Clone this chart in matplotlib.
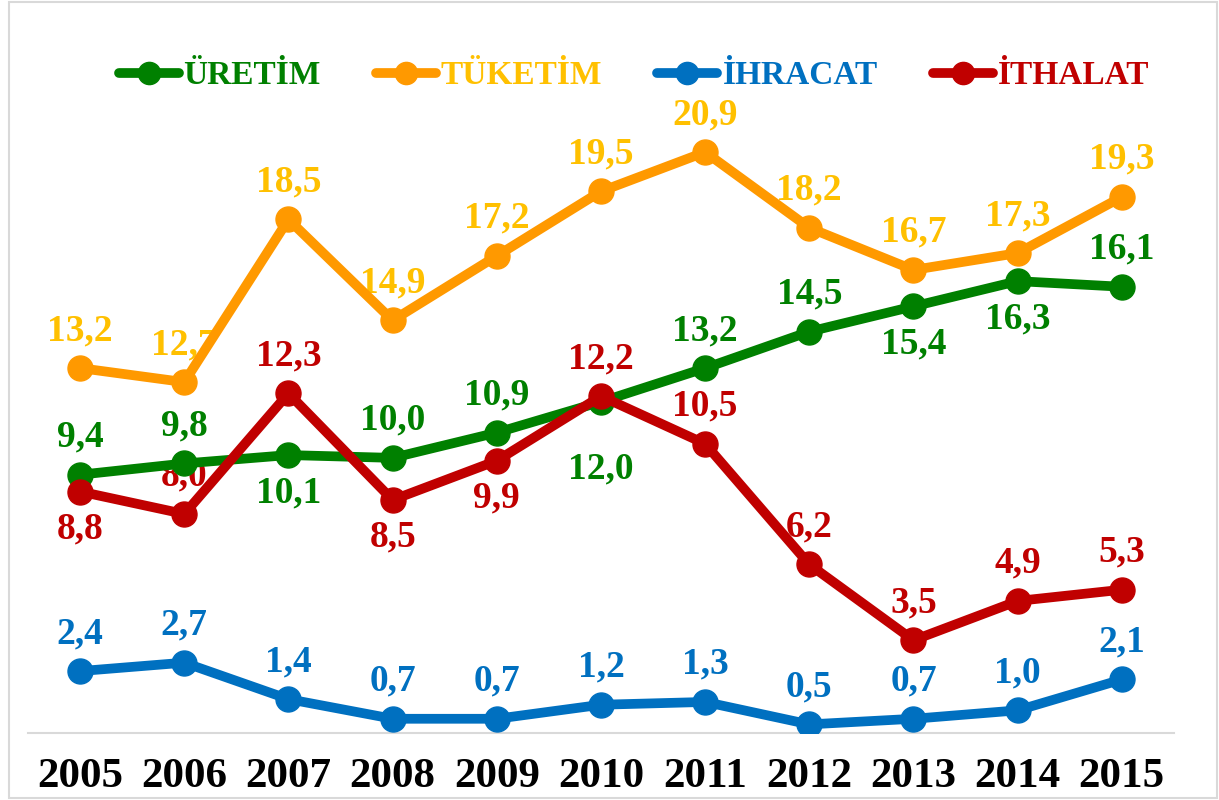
import numpy as np
import matplotlib.pyplot as plt
from matplotlib.patches import Rectangle

# veriler
years = ['2005', '2006', '2007', '2008', '2009', '2010', '2011', '2012', '2013', '2014', '2015']
uretim = [9.4, 9.8, 10.1, 10.0, 10.9, 12.0, 13.2, 14.5, 15.4, 16.3, 16.1]
tuketim = [13.2, 12.7, 18.5, 14.9, 17.2, 19.5, 20.9, 18.2, 16.7, 17.3, 19.3]
ihracat = [2.4, 2.7, 1.4, 0.7, 0.7, 1.2, 1.3, 0.5, 0.7, 1.0, 2.1]
ithalat = [8.8, 8.0, 12.3, 8.5, 9.9, 12.2, 10.5, 6.2, 3.5, 4.9, 5.3]

# etiket konumu: 1 = üstte, -1 = altta
uretim_pos = [1, 1, -1, 1, 1, -1.8, 1, 1, -1, -1, 1]
tuketim_pos = [1] * 11
ihracat_pos = [1] * 11
ithalat_pos = [-1, 1, 1, -1, -1, 1, 1, 1, 1, 1, 1]

plt.rcParams['font.family'] = ['Liberation Serif', 'DejaVu Serif']
plt.rcParams['font.weight'] = 'bold'

fig = plt.figure(figsize=(12.19, 8), dpi=100)
ax = fig.add_axes([0.023, 0.084, 0.940, 0.782])

x = np.arange(len(years))
series = [
    ('ÜRETİM', uretim, uretim_pos, '#008000', '#008000'),
    ('TÜKETİM', tuketim, tuketim_pos, '#FF9900', '#FFC000'),
    ('İHRACAT', ihracat, ihracat_pos, '#0070C0', '#0070C0'),
    ('İTHALAT', ithalat, ithalat_pos, '#C00000', '#C00000'),
]

for i, (name, vals, pos, lc, tc) in enumerate(series):
    ax.plot(x, vals, '-o', color=lc, lw=7, ms=18, label=name,
            solid_capstyle='round', zorder=3 + i)
    for xi, v, p in zip(x, vals, pos):
        lab = f'{v:.1f}'.replace('.', ',')
        ax.annotate(lab, (xi, v), xytext=(0, 27 * p), textcoords='offset points',
                    ha='center', va='center', fontsize=27, color=tc,
                    fontweight='bold', zorder=2)

ax.set_xlim(-0.5, len(years) - 0.5)
ax.set_ylim(0.2, 22.5)
ax.set_xticks(x)
ax.set_xticklabels(years, fontsize=31, fontweight='bold')
ax.tick_params(axis='x', length=0, pad=18)
ax.set_yticks([])
for s in ['top', 'left', 'right']:
    ax.spines[s].set_visible(False)
ax.spines['bottom'].set_color('#D9D9D9')
ax.spines['bottom'].set_linewidth(1.5)

leg = fig.legend(loc='center', bbox_to_anchor=(0.52, 0.905), ncol=4, frameon=False,
                 handlelength=1.8, columnspacing=1.65, handletextpad=0.15,
                 labelcolor=['#008000', '#FFC000', '#0070C0', '#C00000'],
                 prop={'weight': 'bold', 'size': 24})
for h in leg.legend_handles:
    h.set_markersize(16)

fig.patches.append(Rectangle((0.007, 0.003), 0.991, 0.995, transform=fig.transFigure,
                             fill=False, edgecolor='#D9D9D9', lw=1.5))

fig.savefig('out.png', dpi=100)
